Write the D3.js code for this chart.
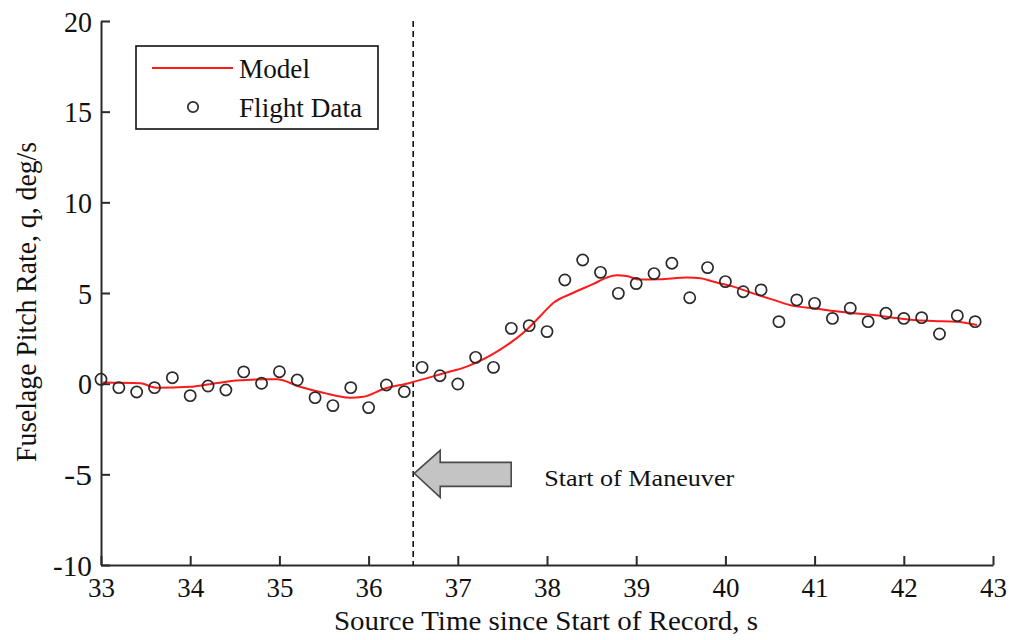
<!DOCTYPE html>
<html>
<head>
<meta charset="utf-8">
<script src="https://cdn.jsdelivr.net/npm/d3@7"></script>
<style>
  html, body { margin: 0; padding: 0; background: #fff; }
  svg { display: block; }
  text { font-family: "Liberation Serif", "Times New Roman", serif; fill: #111; }
</style>
</head>
<body>
<svg id="chart" width="1010" height="640"></svg>
<script>
// ---- data ----
const flightTime = [33.0, 33.2, 33.4, 33.6, 33.8, 34.0, 34.2, 34.4, 34.6, 34.8,
  35.0, 35.2, 35.4, 35.6, 35.8, 36.0, 36.2, 36.4, 36.6, 36.8,
  37.0, 37.2, 37.4, 37.6, 37.8, 38.0, 38.2, 38.4, 38.6, 38.8,
  39.0, 39.2, 39.4, 39.6, 39.8, 40.0, 40.2, 40.4, 40.6, 40.8,
  41.0, 41.2, 41.4, 41.6, 41.8, 42.0, 42.2, 42.4, 42.6, 42.8];
const flightQ = [0.24, -0.22, -0.46, -0.22, 0.33, -0.66, -0.13, -0.35, 0.65, 0.02,
  0.66, 0.2, -0.77, -1.21, -0.22, -1.32, -0.07, -0.44, 0.9, 0.44,
  -0.02, 1.45, 0.9, 3.05, 3.2, 2.87, 5.72, 6.82, 6.14, 4.98,
  5.52, 6.07, 6.64, 4.74, 6.4, 5.63, 5.07, 5.17, 3.42, 4.62,
  4.43, 3.6, 4.16, 3.42, 3.88, 3.6, 3.64, 2.74, 3.75, 3.42];

const modelTime = [33.02, 33.44, 33.62, 34.0, 34.22, 34.52, 34.82, 34.97, 35.23, 35.49,
  35.79, 35.94, 36.16, 36.46, 36.84, 37.10, 37.47, 37.77, 37.92, 38.07,
  38.29, 38.52, 38.67, 38.78, 38.89, 39.04, 39.27, 39.57, 39.72, 39.86,
  40.09, 40.31, 40.54, 40.76, 40.99, 41.21, 41.43, 41.66, 41.88, 42.11,
  42.33, 42.59, 42.82];
const modelQ = [0.06, 0.02, -0.22, -0.17, -0.03, 0.17, 0.24, 0.24, -0.17, -0.5,
  -0.77, -0.72, -0.31, 0.04, 0.57, 0.94, 1.86, 2.96, 3.7, 4.45,
  5.0, 5.5, 5.85, 5.98, 5.94, 5.74, 5.76, 5.85, 5.82, 5.63,
  5.35, 4.98, 4.62, 4.29, 4.16, 4.01, 3.88, 3.79, 3.64, 3.51,
  3.46, 3.42, 3.24];

const xTicks = [33, 34, 35, 36, 37, 38, 39, 40, 41, 42, 43];
const yTicks = [-10, -5, 0, 5, 10, 15, 20];
const maneuverTime = 36.5;
const arrowLevel = -5;
const xLabel = "Source Time since Start of Record, s";
const yLabel = "Fuselage Pitch Rate, q, deg/s";
const annotation = "Start of Maneuver";
const legendLabels = ["Model", "Flight Data"];

// ---- layout ----
const FONT = '"Liberation Serif", "Times New Roman", serif';
const svg = d3.select("#chart");
const x = d3.scaleLinear().domain([33, 43]).range([101, 993]);
const y = d3.scaleLinear().domain([-10, 20]).range([565, 21]);
const axisColor = "#2a2a2a";
const fmt = d => String(d);  // plain hyphen-minus as in the reference

// axes
const gx = svg.append("g").attr("transform", `translate(0,${y(-10)})`)
  .call(d3.axisBottom(x).tickValues(xTicks).tickSizeInner(-9).tickSizeOuter(0).tickFormat(fmt))
  .attr("font-family", FONT);
gx.select(".domain").attr("stroke", axisColor).attr("stroke-width", 2);
gx.selectAll(".tick line").attr("stroke", axisColor).attr("stroke-width", 2);
gx.selectAll(".tick text").attr("y", 32).attr("dy", 0)
  .attr("font-family", FONT).style("font-size", "28px").attr("fill", "#111")
  .attr("textLength", 27).attr("lengthAdjust", "spacingAndGlyphs");

const gy = svg.append("g").attr("transform", `translate(${x(33)},0)`)
  .call(d3.axisLeft(y).tickValues(yTicks).tickSizeInner(-9).tickSizeOuter(0).tickFormat(fmt))
  .attr("font-family", FONT);
gy.select(".domain").attr("stroke", axisColor).attr("stroke-width", 2);
gy.selectAll(".tick line").attr("stroke", axisColor).attr("stroke-width", 2);
gy.selectAll(".tick text").attr("x", -9).attr("dy", "0.35em")
  .attr("font-family", FONT).style("font-size", "29px").attr("fill", "#111")
  .attr("textLength", d => String(d).length === 1 ? 14 : (String(d).length === 2 ? 28 : 39))
  .attr("lengthAdjust", "spacingAndGlyphs");

// axis labels
svg.append("text").attr("x", (x(33) + x(43)) / 2 - 1).attr("y", 630)
  .attr("text-anchor", "middle").style("font-size", "28px")
  .attr("textLength", 424).attr("lengthAdjust", "spacingAndGlyphs").text(xLabel);
svg.append("text").attr("transform", `translate(36,${302}) rotate(-90)`)
  .attr("text-anchor", "middle").style("font-size", "29px")
  .attr("textLength", 320).attr("lengthAdjust", "spacingAndGlyphs").text(yLabel);

// maneuver dashed line
svg.append("line")
  .attr("x1", x(maneuverTime)).attr("x2", x(maneuverTime))
  .attr("y1", y(20)).attr("y2", y(-10))
  .attr("stroke", "#111").attr("stroke-width", 1.6).attr("stroke-dasharray", "6,4");

// arrow annotation
const ax0 = x(maneuverTime) + 1, ay0 = y(arrowLevel) - 1;
const arrowPts = [[0, 0], [26, -23], [26, -11], [97, -11], [97, 13], [26, 13], [26, 24]]
  .map(p => [ax0 + p[0], ay0 + p[1]]);
svg.append("polygon").attr("points", arrowPts.map(p => p.join(",")).join(" "))
  .attr("fill", "#c4c4c4").attr("stroke", "#4a4a4a").attr("stroke-width", 1.6);
svg.append("text").attr("x", ax0 + 130).attr("y", ay0 + 13)
  .style("font-size", "23px").attr("textLength", 190).attr("lengthAdjust", "spacingAndGlyphs")
  .text(annotation);

// model line
const line = d3.line().x((d, i) => x(modelTime[i])).y(d => y(d)).curve(d3.curveMonotoneX);
svg.append("path").datum(modelQ).attr("d", line)
  .attr("fill", "none").attr("stroke", "#ff1a1a").attr("stroke-width", 2);

// flight data
svg.append("g").selectAll("circle").data(flightQ).join("circle")
  .attr("cx", (d, i) => x(flightTime[i])).attr("cy", d => y(d)).attr("r", 5.6)
  .attr("fill", "none").attr("stroke", "#2a2a2a").attr("stroke-width", 1.7);

// legend
const lg = svg.append("g");
lg.append("rect").attr("x", 136).attr("y", 46).attr("width", 242).attr("height", 83)
  .attr("fill", "#fff").attr("stroke", "#111").attr("stroke-width", 1.6);
lg.append("line").attr("x1", 152).attr("x2", 233).attr("y1", 68).attr("y2", 68)
  .attr("stroke", "#ff1a1a").attr("stroke-width", 2);
lg.append("circle").attr("cx", 193).attr("cy", 107).attr("r", 5.2)
  .attr("fill", "none").attr("stroke", "#2a2a2a").attr("stroke-width", 1.7);
lg.append("text").attr("x", 239).attr("y", 78).style("font-size", "27px")
  .attr("textLength", 71).attr("lengthAdjust", "spacingAndGlyphs").text(legendLabels[0]);
lg.append("text").attr("x", 239).attr("y", 117).style("font-size", "27px")
  .attr("textLength", 123).attr("lengthAdjust", "spacingAndGlyphs").text(legendLabels[1]);
</script>
</body>
</html>
